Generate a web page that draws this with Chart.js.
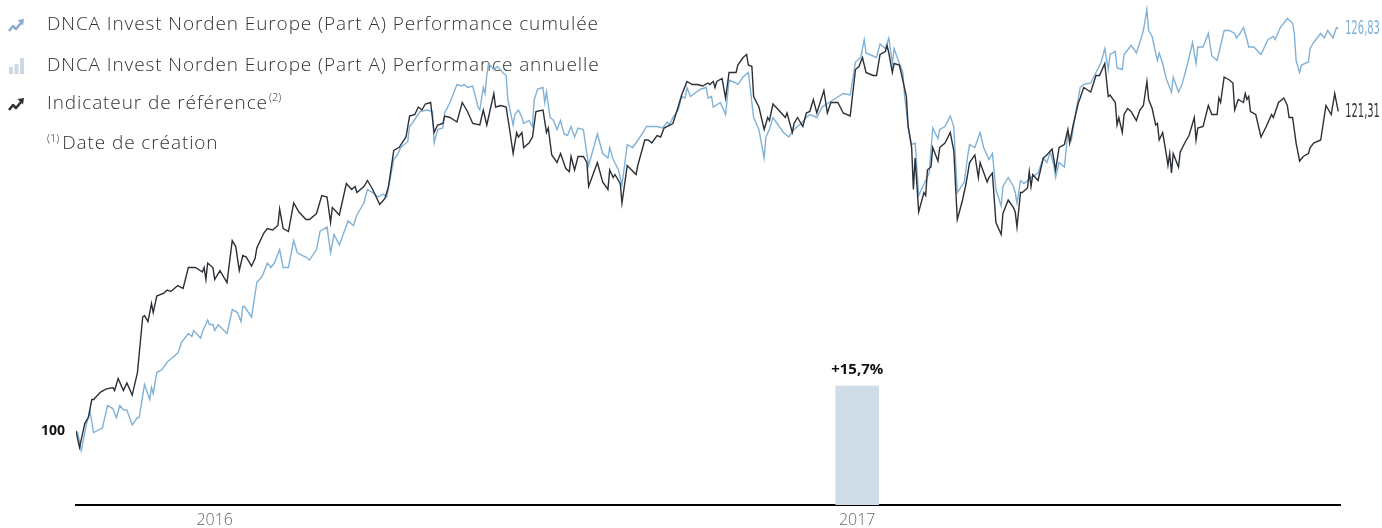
<!DOCTYPE html>
<html>
<head>
<meta charset="utf-8">
<script src="https://cdn.jsdelivr.net/npm/chart.js@4"></script>
<style>
  html, body { margin: 0; padding: 0; background: #fff; }
  #wrap { position: relative; width: 1382px; height: 528px; }
</style>
</head>
<body>
<div id="wrap"><canvas id="perfChart"></canvas></div>
<script>
// days since the fund's creation
const fundDays = [0,1,3,6,8,10,15,18,21,23,25,27,29,32,35,36,39,42,43,44,46,49,52,55,58,59,60,64,66,67,71,72,75,76,78,79,81,86,89,92,94,95,96,100,103,106,109,111,113,116,118,121,124,126,129,131,133,137,139,143,145,147,150,155,158,160,164,166,169,172,175,177,181,183,185,189,190,192,196,200,203,204,206,209,210,213,217,220,221,223,226,229,230,232,233,234,235,238,240,243,245,246,249,250,252,254,255,258,260,261,263,266,267,268,270,272,274,276,278,280,282,284,286,289,292,297,300,303,304,306,309,311,314,317,319,323,325,331,334,337,338,340,343,345,347,348,350,356,359,360,362,363,367,370,372,376,377,380,383,384,386,389,392,393,395,397,400,403,406,409,413,416,418,422,425,429,437,441,444,447,449,450,454,456,458,461,463,465,466,469,471,472,474,476,478,480,484,486,488,491,492,495,498,500,502,506,508,509,512,515,517,520,522,524,527,528,531,534,535,536,538,540,544,548,551,553,555,557,558,560,563,565,567,569,572,574,578,581,584,586,588,589,592,593,596,597,599,601,603,604,606,608,610,611,613,615,616,617,619,621,622,624,625,628,630,633,636,638,639,642,645,647,650,652,654,657,660,661,663,665,667,668,671,675,679,682,683,686,690,693,694,695,697,698,702,703,705,709,711,713,716,718,719];
const fundValues = [100.0,99.9,98.7,100.5,101.3,99.9,100.2,101.7,101.5,100.9,101.7,101.4,101.4,100.4,100.9,100.9,103.1,102.1,102.9,102.5,103.9,104.1,104.6,104.9,105.2,105.5,105.9,106.5,106.3,106.7,106.2,106.6,107.4,107.1,107.1,106.7,107.1,106.5,108.1,107.9,107.3,108.3,108.3,107.6,109.9,110.3,111.2,110.9,111.2,112.1,110.9,110.9,112.7,111.9,111.7,111.6,111.4,112.1,113.3,113.6,111.9,113.1,112.4,114.0,113.7,114.4,115.2,116.1,115.9,115.6,115.8,115.6,118.1,118.4,118.9,119.3,120.3,120.6,121.3,121.4,121.3,119.2,120.1,120.2,121.2,121.9,123.1,123.0,123.1,122.9,123.0,121.6,121.4,122.9,122.5,123.7,124.5,124.1,124.3,123.9,123.7,122.1,120.4,121.1,121.4,120.9,120.5,120.7,120.3,122.1,122.8,122.9,121.9,122.6,120.9,120.7,120.1,120.7,119.8,119.7,120.3,119.6,120.2,120.1,117.7,119.8,118.5,118.2,118.9,118.1,117.4,116.4,119.1,118.9,119.2,119.9,120.3,120.3,120.2,120.6,120.4,120.9,121.4,122.3,122.2,122.9,122.3,122.8,122.9,122.2,122.3,121.6,121.9,121.1,123.4,123.2,123.1,123.6,123.9,122.9,120.9,120.1,118.2,119.6,120.1,120.9,120.4,119.9,119.6,120.1,120.5,120.9,121.1,120.9,121.6,121.9,122.5,122.4,124.6,124.9,126.1,125.2,125.0,124.9,125.8,125.5,126.2,124.5,125.5,124.5,123.9,122.3,120.3,119.1,119.2,115.7,116.7,117.2,120.2,119.5,120.1,120.3,121.0,120.3,115.9,116.6,118.4,119.1,118.9,119.9,118.9,118.1,118.5,116.1,115.0,116.3,116.9,116.3,115.9,115.2,116.7,116.5,116.9,117.2,118.2,117.9,118.6,117.7,116.9,117.9,117.6,119.9,119.4,120.9,122.9,123.1,123.2,123.9,124.6,125.5,124.1,125.1,125.3,124.2,124.1,125.1,125.4,125.7,125.4,125.2,125.9,126.7,128.1,126.7,126.3,125.2,124.7,125.2,124.5,123.5,123.2,122.6,123.6,122.6,123.1,124.4,125.9,124.5,125.6,125.6,126.5,125.0,124.7,125.7,126.7,126.7,126.5,126.2,126.5,126.9,126.1,125.6,125.6,125.1,126.1,126.3,126.1,126.9,127.5,127.2,126.5,124.7,123.9,124.4,124.6,125.5,125.9,126.5,126.2,126.7,126.2,126.9,126.83];

const indexDays = [0,2,5,7,9,10,14,17,21,22,24,27,29,32,35,38,39,41,43,44,46,50,52,54,58,61,64,68,72,73,74,75,78,79,82,86,89,91,93,95,97,100,102,103,107,109,112,115,116,118,121,124,127,131,133,137,140,143,145,146,150,154,157,159,160,164,166,169,173,176,178,181,184,188,190,193,195,197,199,202,204,206,209,210,213,217,220,223,226,230,232,234,238,239,242,245,247,249,251,252,254,255,258,260,262,266,268,269,271,274,276,279,281,282,284,286,289,291,292,297,300,303,304,306,307,310,311,314,319,320,324,326,328,331,333,335,340,343,345,348,351,354,357,360,361,363,364,365,368,370,372,376,377,380,382,383,385,386,389,392,394,395,397,401,404,405,408,409,411,414,416,418,420,422,426,428,430,434,437,441,444,446,448,450,454,456,458,461,462,463,465,466,469,470,473,474,476,477,478,480,483,484,485,487,488,491,492,495,498,500,502,505,507,509,512,514,515,519,520,522,524,527,528,531,534,535,536,538,539,542,543,544,545,548,551,553,556,558,560,563,565,566,568,571,572,574,578,581,583,586,588,589,592,593,594,596,597,599,601,604,606,608,610,611,613,615,616,617,619,621,622,623,624,625,628,629,632,634,637,638,639,642,645,647,650,651,652,654,657,659,660,662,665,666,667,668,669,672,675,678,681,682,685,688,690,691,693,695,697,699,702,703,705,709,712,715,717,719];
const indexValues = [100.0,98.9,100.5,100.9,102.1,102.1,102.6,102.8,102.9,102.7,103.5,102.7,103.2,102.4,103.9,107.6,107.7,107.3,108.5,107.9,109.0,109.2,109.4,109.3,109.7,109.5,110.9,110.9,110.6,110.9,110.1,111.2,110.9,110.1,110.7,109.9,112.7,112.3,110.7,111.7,111.6,111.0,111.5,112.2,113.2,113.5,113.4,113.7,114.8,113.5,113.3,115.2,114.6,114.1,114.1,114.5,115.7,115.6,113.9,114.9,114.4,116.5,116.1,116.3,115.9,116.3,116.7,116.1,115.1,115.5,116.3,118.7,118.9,119.6,121.0,121.1,121.6,121.4,121.8,121.9,119.9,120.4,120.5,121.0,120.9,120.6,121.9,121.3,120.5,120.4,121.4,120.4,122.5,121.6,121.7,121.6,120.1,118.5,119.9,119.6,119.9,118.9,119.2,119.6,121.3,121.4,119.9,120.2,118.4,117.9,118.5,117.5,117.3,118.3,117.4,118.3,118.3,117.9,116.3,117.9,116.6,116.1,117.4,116.9,117.1,116.5,115.2,117.7,117.1,117.7,119.4,119.4,119.2,119.7,119.6,120.2,120.5,121.6,122.4,123.3,123.1,123.1,123.0,123.2,123.1,123.3,122.9,123.3,123.5,122.2,123.9,123.9,124.4,124.9,125.1,124.4,124.3,122.3,121.6,120.1,120.9,120.7,121.8,121.3,120.9,121.2,119.9,120.5,120.9,120.3,121.2,121.3,122.1,121.2,122.7,121.2,121.9,121.9,121.2,121.0,124.1,124.3,124.9,123.9,123.7,123.7,125.1,125.3,125.7,125.2,123.9,124.5,124.4,123.9,122.3,120.3,118.9,116.1,118.2,114.6,115.9,115.7,117.4,117.6,118.9,118.0,118.9,119.2,119.9,118.7,114.1,115.4,116.5,117.9,118.4,116.9,117.9,116.6,116.9,117.2,113.9,113.1,114.5,115.4,114.9,114.6,113.6,115.9,115.9,116.2,117.3,116.3,117.1,116.7,118.2,118.4,118.8,117.4,118.9,119.1,120.1,119.2,120.4,121.9,122.2,122.9,122.6,123.7,123.7,124.5,122.3,122.4,121.9,120.4,120.9,119.9,121.1,121.5,121.3,120.7,121.4,121.7,123.3,122.1,121.5,120.4,120.5,119.4,119.9,118.5,117.7,118.5,117.2,118.5,117.6,118.6,119.3,119.7,120.9,119.4,120.2,120.3,121.7,121.1,121.1,122.2,121.9,123.6,123.4,123.2,121.4,122.1,121.9,122.5,122.1,122.3,121.3,121.1,119.6,120.3,121.1,120.9,121.9,122.2,121.7,120.9,120.9,119.2,118.0,118.3,118.5,118.9,119.2,119.4,121.7,121.1,122.5,121.31];

const annualDays = [445];
const annualValues = [15.7];

const yearTicks = [79, 445];
const yearLabels = ['2016', '2017'];

const legendRows = [
  { text: 'DNCA Invest Norden Europe (Part A) Performance cumulée', icon: 'trend', color: '#8eabcc' },
  { text: 'DNCA Invest Norden Europe (Part A) Performance annuelle', icon: 'bars', color: '#cdd8e5' },
  { text: 'Indicateur de référence', sup: '(2)', icon: 'trend', color: '#2b2f36' },
  { text: 'Date de création', pre: '(1)' },
];
const legendRowY = [25, 66, 104, 144];

const toPoints = (days, values) => days.map((d, i) => ({ x: d, y: values[i] }));
const frNum = (v, n) => v.toFixed(n).replace('.', ',');

const legendPlugin = {
  id: 'sideLegend',
  beforeDatasetsDraw(chart) {
    const ctx = chart.ctx;
    ctx.save();
    legendRows.forEach((row, i) => {
      const y = legendRowY[i];
      if (row.icon === 'trend') {
        ctx.strokeStyle = row.color;
        ctx.fillStyle = row.color;
        ctx.lineWidth = 2.5;
        ctx.lineJoin = 'round';
        ctx.beginPath();
        ctx.moveTo(9, y + 6);
        ctx.lineTo(13, y + 1);
        ctx.lineTo(16, y + 4);
        ctx.lineTo(21, y - 2);
        ctx.stroke();
        ctx.beginPath();
        ctx.moveTo(24, y - 6);
        ctx.lineTo(17.5, y - 5);
        ctx.lineTo(23, y + 0.5);
        ctx.closePath();
        ctx.fill();
      } else if (row.icon === 'bars') {
        ctx.fillStyle = row.color;
        ctx.fillRect(9, y + 1, 4, 7);
        ctx.fillRect(14.5, y - 2, 4, 10);
        ctx.fillRect(20, y - 8, 4, 16);
      }
      ctx.fillStyle = '#333';
      ctx.textBaseline = 'middle';
      let x = 47;
      if (row.pre) {
        ctx.letterSpacing = '0px';
        ctx.font = '300 11px "Open Sans"';
        ctx.fillText(row.pre, x, y - 5);
        x += ctx.measureText(row.pre).width + 3;
      }
      ctx.letterSpacing = '0.9px';
      ctx.font = '300 19px "Open Sans"';
      ctx.fillText(row.text, x, y);
      if (row.sup) {
        const w = ctx.measureText(row.text).width;
        ctx.letterSpacing = '0px';
        ctx.font = '300 11px "Open Sans"';
        ctx.fillText(row.sup, x + w + 1, y - 6);
      }
    });
    ctx.restore();
  },
  afterDatasetsDraw(chart) {
    const ctx = chart.ctx;
    ctx.save();
    // end values of the two lines
    [0, 1].forEach((i) => {
      const meta = chart.getDatasetMeta(i);
      const pt = meta.data[meta.data.length - 1];
      const ds = chart.data.datasets[i];
      const last = ds.data[ds.data.length - 1].y;
      ctx.save();
      ctx.translate(pt.x + 7, pt.y);
      ctx.scale(0.55, 1);
      ctx.font = '300 20px "Liberation Sans Narrow", "DejaVu Sans Condensed", sans-serif';
      ctx.fillStyle = ds.endColor;
      ctx.textBaseline = 'middle';
      ctx.fillText(frNum(last, 2), 0, 0);
      ctx.restore();
    });
    // annual bar labels
    const barMeta = chart.getDatasetMeta(2);
    barMeta.data.forEach((bar, j) => {
      const v = annualValues[j];
      ctx.font = 'bold 15px "Open Sans"';
      ctx.fillStyle = '#111';
      ctx.textAlign = 'center';
      ctx.textBaseline = 'middle';
      ctx.fillText((v >= 0 ? '+' : '') + frNum(v, 1) + '%', bar.x, bar.y - 16);
    });
    ctx.restore();
  },
};

new Chart(document.getElementById('perfChart'), {
  type: 'line',
  data: {
    datasets: [
      {
        label: 'Indicateur de référence',
        data: toPoints(indexDays, indexValues),
        borderColor: '#2b2f36',
        endColor: '#333',
        borderWidth: 1.4,
        pointRadius: 0,
        tension: 0,
        order: 1,
      },
      {
        label: 'DNCA Invest Norden Europe (Part A) Performance cumulée',
        data: toPoints(fundDays, fundValues),
        borderColor: '#80b2d8',
        endColor: '#7fb1d8',
        borderWidth: 1.4,
        pointRadius: 0,
        tension: 0,
        order: 2,
      },
      {
        type: 'bar',
        label: 'DNCA Invest Norden Europe (Part A) Performance annuelle',
        data: toPoints(annualDays, annualValues),
        backgroundColor: '#d0dce8',
        barThickness: 43,
        yAxisID: 'y2',
        order: 3,
      },
    ],
  },
  options: {
    responsive: true,
    maintainAspectRatio: false,
    animation: false,
    layout: { padding: { top: 5, right: 42, left: 0, bottom: 0 } },
    plugins: { legend: { display: false }, tooltip: { enabled: false } },
    scales: {
      x: {
        type: 'linear',
        offset: false,
        min: 0,
        max: 720,
        grid: { display: false, drawTicks: false, offset: false },
        border: { display: true, color: '#000', width: 2 },
        afterBuildTicks: (scale) => {
          scale.ticks = yearTicks.map((v) => ({ value: v }));
        },
        afterFit: (scale) => {
          scale.height = 23;
          scale.paddingLeft = 0;
          scale.paddingRight = 0;
        },
        ticks: {
          padding: 6,
          color: '#666',
          font: { family: 'Open Sans', size: 16, weight: 300 },
          callback: (v) => yearLabels[yearTicks.indexOf(v)],
        },
      },
      y: {
        min: 95.07,
        max: 128.4,
        grid: { display: false, drawTicks: false },
        border: { display: false },
        afterBuildTicks: (scale) => {
          scale.ticks = [{ value: 100 }];
        },
        afterFit: (scale) => {
          scale.width = 76;
          scale.paddingTop = 0;
          scale.paddingBottom = 0;
        },
        ticks: {
          padding: 11,
          color: '#111',
          font: { family: 'Open Sans', size: 14, weight: 'bold' },
          callback: (v) => String(v),
        },
      },
      y2: {
        display: false,
        min: 0,
        max: 66,
      },
    },
  },
  plugins: [legendPlugin],
});
</script>
</body>
</html>
